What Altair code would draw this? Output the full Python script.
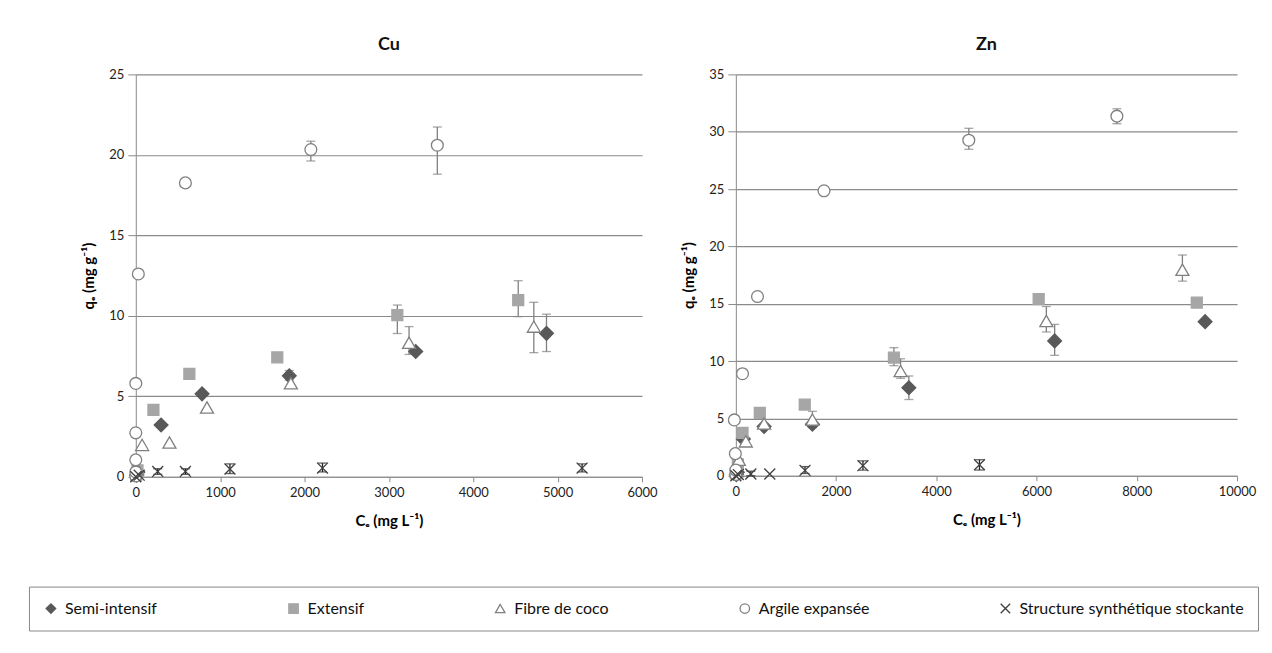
import altair as alt
import pandas as pd

SERIES = ["Semi-intensif", "Extensif", "Fibre de coco", "Argile expansée",
          "Structure synthétique stockante"]

# ---------------- Cu ----------------
cu_semi_x = [10, 25, 300, 785, 1819, 3318, 4868]
cu_semi_y = [0.1, 0.3, 3.22, 5.15, 6.27, 7.78, 8.91]
cu_ext_x = [5, 20, 209, 635, 1677, 3100, 4533]
cu_ext_y = [0.1, 0.4, 4.16, 6.39, 7.42, 10.05, 10.98]
cu_fib_x = [15, 75, 399, 844, 1838, 3239, 4718]
cu_fib_y = [0.5, 1.98, 2.13, 4.3, 5.81, 8.33, 9.33]
cu_arg_x = [0, 0, 0, 0, 0, 30, 588, 2075, 3574]
cu_arg_y = [0.05, 0.3, 1.05, 2.73, 5.8, 12.6, 18.26, 20.33, 20.6]
cu_sss_x = [0, 40, 260, 588, 1116, 2213, 5290]
cu_sss_y = [0.0, 0.1, 0.33, 0.33, 0.48, 0.54, 0.54]

cu_err_series = ["Argile expansée", "Argile expansée", "Extensif", "Extensif",
                 "Semi-intensif", "Semi-intensif", "Fibre de coco", "Fibre de coco",
                 "Structure synthétique stockante", "Structure synthétique stockante",
                 "Structure synthétique stockante", "Structure synthétique stockante",
                 "Structure synthétique stockante"]
cu_err_x = [2075, 3574, 3100, 4533, 1819, 4868, 3239, 4718, 260, 588, 1116, 2213, 5290]
cu_err_lo = [19.62, 18.8, 8.9, 9.95, 6.0, 7.78, 7.6, 7.71, 0.15, 0.15, 0.2, 0.3, 0.3]
cu_err_hi = [20.85, 21.73, 10.67, 12.18, 6.6, 10.1, 9.33, 10.84, 0.5, 0.5, 0.8, 0.85, 0.8]

# ---------------- Zn ----------------
zn_semi_x = [10, 30, 150, 564, 1528, 3452, 6361, 9363]
zn_semi_y = [0.1, 0.3, 3.2, 4.3, 4.5, 7.67, 11.76, 13.44]
zn_ext_x = [5, 40, 133, 478, 1375, 3154, 6042, 9197]
zn_ext_y = [0.2, 1.0, 3.73, 5.48, 6.21, 10.3, 15.4, 15.1]
zn_fib_x = [15, 60, 199, 564, 1528, 3287, 6195, 8910]
zn_fib_y = [0.4, 1.4, 3.0, 4.55, 4.9, 9.13, 13.5, 17.97]
zn_arg_x = [0, 0, -10, -30, 133, 432, 1759, 4648, 7603]
zn_arg_y = [0.1, 0.5, 1.93, 4.87, 8.9, 15.63, 24.85, 29.26, 31.36]
zn_sss_x = [0, 50, 299, 677, 1380, 2536, 4861]
zn_sss_y = [0.0, 0.1, 0.15, 0.15, 0.47, 0.88, 0.96]

zn_err_series = ["Argile expansée", "Argile expansée", "Extensif",
                 "Fibre de coco", "Fibre de coco", "Fibre de coco", "Fibre de coco",
                 "Semi-intensif", "Semi-intensif",
                 "Structure synthétique stockante", "Structure synthétique stockante",
                 "Structure synthétique stockante", "Structure synthétique stockante"]
zn_err_x = [4648, 7603, 3154, 1528, 3287, 6195, 8910, 3452, 6361, 299, 1380, 2536, 4861]
zn_err_lo = [28.47, 30.7, 9.6, 4.2, 8.5, 12.54, 16.97, 6.65, 10.5, 0.0, 0.2, 0.5, 0.5]
zn_err_hi = [30.3, 32.0, 11.17, 5.62, 10.2, 14.76, 19.25, 8.7, 13.2, 0.4, 0.8, 1.3, 1.4]


def points_frame(groups):
    rows = []
    for name, xs, ys in groups:
        for x, y in zip(xs, ys):
            rows.append({"series": name, "ce": x, "qe": y})
    return pd.DataFrame(rows)


cu_pts = points_frame([(SERIES[0], cu_semi_x, cu_semi_y), (SERIES[1], cu_ext_x, cu_ext_y),
                       (SERIES[2], cu_fib_x, cu_fib_y), (SERIES[3], cu_arg_x, cu_arg_y),
                       (SERIES[4], cu_sss_x, cu_sss_y)])
zn_pts = points_frame([(SERIES[0], zn_semi_x, zn_semi_y), (SERIES[1], zn_ext_x, zn_ext_y),
                       (SERIES[2], zn_fib_x, zn_fib_y), (SERIES[3], zn_arg_x, zn_arg_y),
                       (SERIES[4], zn_sss_x, zn_sss_y)])
cu_err = pd.DataFrame({"series": cu_err_series, "ce": cu_err_x, "lo": cu_err_lo, "hi": cu_err_hi})
zn_err = pd.DataFrame({"series": zn_err_series, "ce": zn_err_x, "lo": zn_err_lo, "hi": zn_err_hi})

FONT = "Lato"
GRID = "#8a8a8a"

shape_scale = alt.Scale(domain=SERIES, range=["diamond", "square", "triangle-up", "circle",
                                              "M-1,-1L1,1M-1,1L1,-1"])
fill_scale = alt.Scale(domain=SERIES, range=["#595959", "#a6a6a6", "#ffffff", "#ffffff", "transparent"])
stroke_scale = alt.Scale(domain=SERIES, range=["#595959", "#a6a6a6", "#808080", "#808080", "#404040"])
MARK_SIZES = [190, 120, 170, 140, 120]


def panel(title, pts, err, xmax, xstep, ymax, ystep, w, h):
    xs = alt.Scale(domain=[0, xmax], nice=False, zero=False)
    ys = alt.Scale(domain=[0, ymax], nice=False)
    xaxis = alt.Axis(values=list(range(0, xmax + 1, xstep)), title="Cₑ (mg L⁻¹)", grid=False,
                     format="d", tickSize=5, tickColor=GRID, domainColor=GRID, labelPadding=5,
                     titlePadding=14, labelFontSize=13, labelFont=FONT, titleFont=FONT,
                     titleFontSize=15, titleFontWeight="bold", labelColor="#222",
                     labelFlush=False)
    yaxis = alt.Axis(values=list(range(0, ymax + 1, ystep)), title="qₑ (mg g⁻¹)", grid=True,
                     format="d", gridColor=GRID, gridWidth=1.2, tickSize=8, tickColor=GRID,
                     domainColor=GRID, labelPadding=4, titlePadding=12, labelFontSize=13,
                     labelFont=FONT, titleFont=FONT, titleFontSize=15, titleFontWeight="bold",
                     labelColor="#222", labelFlush=False)
    is_sss = alt.FieldEqualPredicate(field="series", equal=SERIES[4])
    ecol = alt.condition(is_sss, alt.value("#222222"), alt.value("#808080"))
    rules = alt.Chart(err).mark_rule(strokeWidth=1.3).encode(
        x=alt.X("ce:Q", scale=xs, axis=xaxis),
        y=alt.Y("lo:Q", scale=ys, axis=yaxis),
        y2="hi:Q",
        color=ecol,
    )
    cap_lo = alt.Chart(err).mark_tick(orient="horizontal", size=9, thickness=1.3).encode(
        x=alt.X("ce:Q", scale=xs), y=alt.Y("lo:Q", scale=ys), color=ecol)
    cap_hi = alt.Chart(err).mark_tick(orient="horizontal", size=9, thickness=1.3).encode(
        x=alt.X("ce:Q", scale=xs), y=alt.Y("hi:Q", scale=ys), color=ecol)
    layers = [rules, cap_lo, cap_hi]
    for name, msize in zip(SERIES, MARK_SIZES):
        layers.append(
            alt.Chart(pts).transform_filter(alt.FieldEqualPredicate(field="series", equal=name))
            .mark_point(opacity=1, strokeWidth=1.3, size=msize).encode(
                x=alt.X("ce:Q", scale=xs, axis=xaxis),
                y=alt.Y("qe:Q", scale=ys, axis=yaxis),
                shape=alt.Shape("series:N", scale=shape_scale, title=""),
                fill=alt.Fill("series:N", scale=fill_scale, title=""),
                stroke=alt.Stroke("series:N", scale=stroke_scale, title=""),
            )
        )
    return alt.layer(*layers).properties(
        width=w, height=h,
        title=alt.TitleParams(title, fontSize=18, font=FONT, fontWeight="bold", offset=14,
                              color="#111"),
    )


cu = panel("Cu", cu_pts, cu_err, 6000, 1000, 25, 5, 507, 403)
zn = panel("Zn", zn_pts, zn_err, 10000, 2000, 35, 5, 502, 402)

chart = alt.hconcat(cu, zn, spacing=23).properties(
    padding={"left": 20, "top": 28, "right": 5, "bottom": 10},
).configure_view(stroke=None).configure_legend(
    orient="none", legendX=-107, legendY=513, direction="horizontal", columns=5,
    padding=14, strokeColor="#888888", fillColor="#ffffff", labelFont=FONT, labelFontSize=16,
    labelColor="#111", symbolSize=90, symbolStrokeWidth=1.3, columnPadding=128, labelOffset=6,
    labelLimit=500, titlePadding=0,
)

chart.save("out.html", embed_options={"renderer": "svg", "actions": False})
